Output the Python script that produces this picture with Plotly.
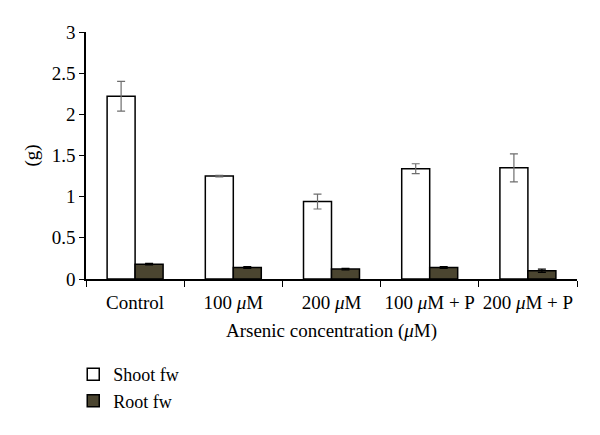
import plotly.graph_objects as go

categories = ["Control", "100 <i>μ</i>M", "200 <i>μ</i>M", "100 <i>μ</i>M + P", "200 <i>μ</i>M + P"]
shoot_fw = [2.22, 1.25, 0.94, 1.34, 1.35]
shoot_err = [0.18, 0.01, 0.09, 0.06, 0.17]
root_fw = [0.18, 0.14, 0.12, 0.14, 0.10]
root_err = [0.01, 0.01, 0.01, 0.01, 0.02]
y_ticks = [0, 0.5, 1, 1.5, 2, 2.5, 3]
y_ticklabels = ["0", "0.5", "1", "1.5", "2", "2.5", "3"]

FONT = "Liberation Serif"
FS = 19

fig = go.Figure()
fig.add_trace(go.Bar(
    x=categories, y=shoot_fw, name="Shoot fw",
    marker=dict(color="white", line=dict(color="black", width=1.5)),
    error_y=dict(type="data", array=shoot_err, color="#6e6e6e", thickness=1.2, width=4),
))
fig.add_trace(go.Bar(
    x=categories, y=root_fw, name="Root fw",
    marker=dict(color="#4b4530", line=dict(color="black", width=1.5)),
    error_y=dict(type="data", array=root_err, color="black", thickness=1.2, width=4),
))

fig.update_layout(
    width=592, height=427,
    margin=dict(l=78, r=23, t=24, b=156, autoexpand=False),
    paper_bgcolor="white", plot_bgcolor="white",
    barmode="group", bargap=0.43, bargroupgap=0,
    font=dict(family=FONT, size=FS, color="black"),
    showlegend=True,
    legend=dict(x=-0.026, y=-0.312, xanchor="left", yanchor="top",
                font=dict(family=FONT, size=18), tracegroupgap=0,
                itemwidth=30, bgcolor="rgba(0,0,0,0)"),
    xaxis=dict(
        automargin=False, tickangle=0,
        showline=True, linecolor="black", linewidth=1.5,
        ticks="outside", tickson="boundaries", ticklen=6, tickcolor="black",
        tickfont=dict(family=FONT, size=FS), ticklabelstandoff=5,
        title=dict(text="Arsenic concentration (<i>μ</i>M)", font=dict(family=FONT, size=FS), standoff=12),
    ),
    yaxis=dict(
        automargin=False,
        range=[0, 3], tickvals=y_ticks, ticktext=y_ticklabels,
        showline=True, linecolor="black", linewidth=1.5,
        ticks="outside", ticklen=5, tickcolor="black", showgrid=False, zeroline=False,
        tickfont=dict(family=FONT, size=FS),
        title=dict(text="(g)", font=dict(family=FONT, size=FS), standoff=8),
    ),
)

fig.write_html("out.html")
